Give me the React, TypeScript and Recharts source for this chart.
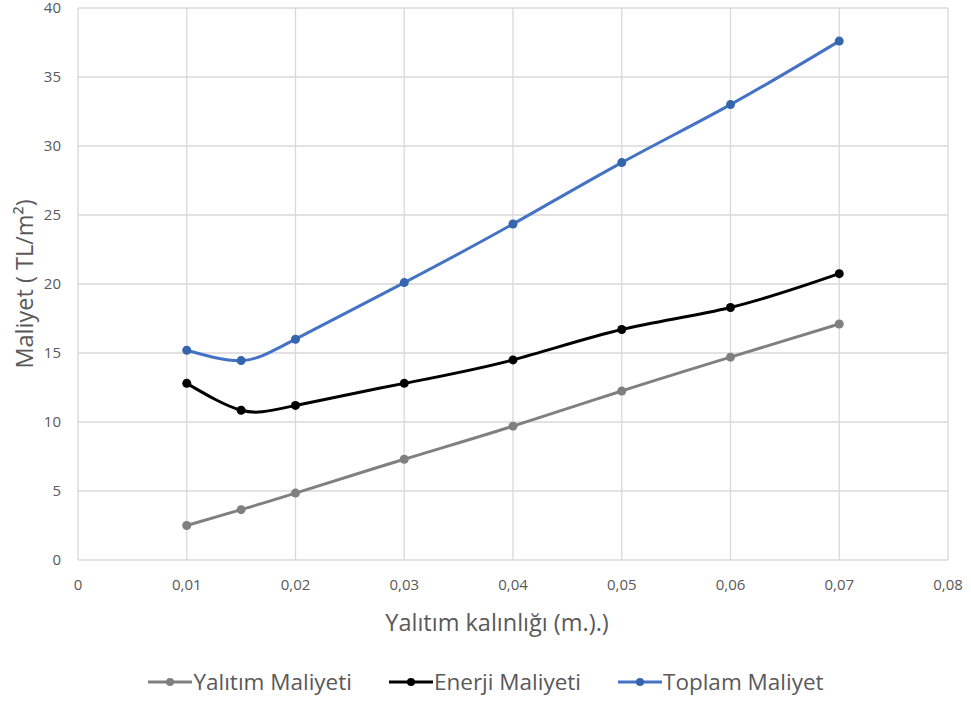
import React from "react";
import {
  CartesianGrid,
  Legend,
  Line,
  LineChart,
  XAxis,
  YAxis,
} from "recharts";

const thickness = [0.01, 0.015, 0.02, 0.03, 0.04, 0.05, 0.06, 0.07];
const yalitimMaliyeti = [2.5, 3.65, 4.85, 7.3, 9.7, 12.25, 14.7, 17.1];
const enerjiMaliyeti = [12.8, 10.85, 11.2, 12.8, 14.5, 16.7, 18.3, 20.75];
const toplamMaliyet = [15.2, 14.45, 16.0, 20.1, 24.35, 28.8, 33.0, 37.6];

const xTicks = [0, 0.01, 0.02, 0.03, 0.04, 0.05, 0.06, 0.07, 0.08];
const yTicks = [0, 5, 10, 15, 20, 25, 30, 35, 40];

const series = [
  { key: "yalitim", name: "Yalıtım Maliyeti", color: "#808080", dot: "#7f7f7f" },
  { key: "enerji", name: "Enerji Maliyeti", color: "#000000", dot: "#000000" },
  { key: "toplam", name: "Toplam Maliyet", color: "#4472c4", dot: "#3565ad" },
];

const data = thickness.map((x, i) => ({
  x,
  yalitim: yalitimMaliyeti[i],
  enerji: enerjiMaliyeti[i],
  toplam: toplamMaliyet[i],
}));

const FONT = "'Open Sans', sans-serif";
const TEXT = "#595959";

const fmt = (v: number) => (v === 0 ? "0" : String(Number(v.toFixed(2))).replace(".", ","));

function YLabel(props: any) {
  const vb = props.viewBox || { x: 0, y: 0, width: 0, height: 0 };
  const cx = vb.x + 24;
  const cy = vb.y + vb.height / 2;
  return (
    <text
      x={cx}
      y={cy}
      transform={`rotate(-90, ${cx}, ${cy})`}
      textAnchor="middle"
      dominantBaseline="central"
      fill={TEXT}
      fontFamily={FONT}
      fontSize={23.5}
    >
      Maliyet ( TL/m²)
    </text>
  );
}

function XLabel(props: any) {
  const vb = props.viewBox || { x: 0, y: 0, width: 0, height: 0 };
  return (
    <text
      x={vb.x + vb.width / 2 - 16}
      y={vb.y + 62}
      textAnchor="middle"
      dominantBaseline="central"
      fill={TEXT}
      fontFamily={FONT}
      fontSize={23.5}
    >
      Yalıtım kalınlığı (m.).)
    </text>
  );
}

function LegendContent() {
  return (
    <div
      style={{
        display: "flex",
        justifyContent: "center",
        alignItems: "center",
        gap: 37,
        paddingTop: 12,
        paddingLeft: 24,
        fontFamily: FONT,
        fontSize: 22.5,
        lineHeight: "36px",
        color: TEXT,
      }}
    >
      {series.map((s) => (
        <div key={s.key} style={{ display: "flex", alignItems: "center" }}>
          <svg width={44} height={12} style={{ marginRight: 1 }}>
            <line x1={0} y1={6} x2={44} y2={6} stroke={s.color} strokeWidth={3} />
            <circle cx={22} cy={6} r={4} fill={s.dot} />
          </svg>
          <span>{s.name}</span>
        </div>
      ))}
    </div>
  );
}

export default function App() {
  return (
    <div style={{ position: "absolute", left: 0, top: 0, background: "#fff" }}>
      <LineChart
        width={971}
        height={702}
        data={data}
        margin={{ top: 8, right: 23, left: 0, bottom: 0 }}
      >
        <CartesianGrid stroke="#d9d9d9" strokeWidth={1.3} />
        <XAxis
          dataKey="x"
          type="number"
          domain={[0, 0.08]}
          ticks={xTicks}
          tickFormatter={fmt}
          axisLine={false}
          tickLine={false}
          tickSize={0}
          tickMargin={19}
          height={92}
          interval={0}
          tick={{ fill: TEXT, fontSize: 15, fontFamily: FONT }}
          label={<XLabel />}
        />
        <YAxis
          type="number"
          domain={[0, 40]}
          ticks={yTicks}
          axisLine={false}
          tickLine={false}
          tickSize={0}
          tickMargin={17}
          width={78}
          interval={0}
          tick={{ fill: TEXT, fontSize: 15, fontFamily: FONT }}
          label={<YLabel />}
        />
        {series.map((s) => (
          <Line
            key={s.key}
            dataKey={s.key}
            name={s.name}
            type="natural"
            stroke={s.color}
            strokeWidth={3}
            dot={{ r: 4.5, fill: s.dot, stroke: s.dot, strokeWidth: 0 }}
            activeDot={false}
            isAnimationActive={false}
          />
        ))}
        <Legend verticalAlign="bottom" height={50} content={<LegendContent />} />
      </LineChart>
    </div>
  );
}
